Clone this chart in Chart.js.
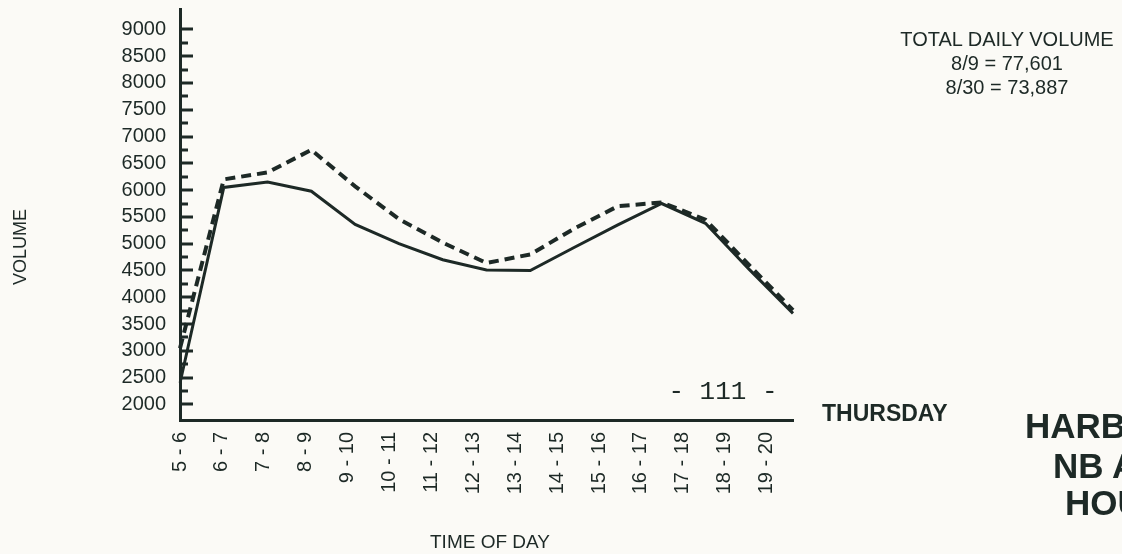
<!DOCTYPE html>
<html>
<head>
<meta charset="utf-8">
<script src="https://cdn.jsdelivr.net/npm/chart.js@4.4.1/dist/chart.umd.min.js"></script>
<style>
  html,body{margin:0;padding:0;background:#fbfaf6;overflow:hidden;}
  #wrap{position:relative;width:1122px;height:554px;}
  #wrap canvas{position:absolute;left:0;top:0;}
  .txt{position:absolute;color:#1d2926;font-family:"Liberation Sans",Arial,sans-serif;white-space:pre;line-height:1;}
</style>
</head>
<body>
<div id="wrap">
  <canvas id="vol"></canvas>
  <div class="txt" style="left:20px;top:247px;font-size:18px;transform:translate(-50%,-50%) rotate(-90deg);">VOLUME</div>
  <div class="txt" style="left:490px;top:541px;font-size:19px;transform:translate(-50%,-50%);">TIME OF DAY</div>
  <div class="txt" style="left:1007px;top:27px;font-size:20px;line-height:24px;text-align:center;transform:translateX(-50%);">TOTAL DAILY VOLUME
8/9 = 77,601
8/30 = 73,887</div>
  <div class="txt" style="left:822px;top:413px;font-size:23px;font-weight:bold;transform:translateY(-50%);">THURSDAY</div>
  <div class="txt" style="left:723px;top:392px;font-size:26px;font-family:'Liberation Mono',monospace;transform:translate(-50%,-50%);">- 111 -</div>
  <div class="txt" style="left:1025px;top:425px;font-size:35px;font-weight:bold;transform:translateY(-50%);">HARBO</div>
  <div class="txt" style="left:1053px;top:465px;font-size:35px;font-weight:bold;transform:translateY(-50%);">NB A</div>
  <div class="txt" style="left:1065px;top:502px;font-size:35px;font-weight:bold;transform:translateY(-50%);">HOU</div>
</div>
<script>
// hourly periods, 5am to 8pm
const hours = ['5 - 6','6 - 7','7 - 8','8 - 9','9 - 10','10 - 11','11 - 12','12 - 13','13 - 14','14 - 15','15 - 16','16 - 17','17 - 18','18 - 19','19 - 20'];
// dashed line (higher day total)
const vol0809 = [3050, 6200, 6330, 6750, 6070, 5460, 5020, 4640, 4800, 5280, 5700, 5770, 5450, 4600, 3760];
// solid line
const vol0830 = [2400, 6050, 6150, 5980, 5360, 5000, 4700, 4510, 4500, 4930, 5350, 5750, 5380, 4520, 3700];
const yTicks = [2000,2500,3000,3500,4000,4500,5000,5500,6000,6500,7000,7500,8000,8500,9000];

const INK = '#1d2926';
const FONT = {family:'"Liberation Sans", Arial, sans-serif', size:20};

// tick marks on the y axis point into the plot (major every 500, minor every 250)
const innerTicks = {
  id:'innerTicks',
  afterDatasetsDraw(chart){
    const y = chart.scales.y, ctx = chart.ctx, x0 = chart.chartArea.left;
    ctx.save();
    ctx.strokeStyle = INK; ctx.lineWidth = 3;
    for(let v = yTicks[0]; v <= yTicks[yTicks.length-1]; v += 250){
      const py = Math.round(y.getPixelForValue(v));
      const len = v % 500 === 0 ? 13 : 8;
      ctx.beginPath(); ctx.moveTo(x0, py); ctx.lineTo(x0 + len, py); ctx.stroke();
    }
    ctx.restore();
  }
};

const cv = document.getElementById('vol');
cv.width = 1122; cv.height = 554;

new Chart(cv, {
  type:'line',
  data:{
    labels: hours,
    datasets:[
      {label:'8/9', data: vol0809, borderColor:INK, borderWidth:4, borderDash:[10,6], pointRadius:0, tension:0, fill:false},
      {label:'8/30', data: vol0830, borderColor:INK, borderWidth:3, pointRadius:0, tension:0, fill:false},
    ]
  },
  options:{
    responsive:false, animation:false,
    layout:{padding:{top:9, right:329, left:0, bottom:0}},
    plugins:{legend:{display:false}, tooltip:{enabled:false}},
    scales:{
      x:{ type:'category', display:false, offset:false },
      // the printed hour labels sit a little tighter than the plotted points
      xl:{ type:'linear', position:'bottom', min:0, max:14.63,
        grid:{drawOnChartArea:false, drawTicks:false},
        border:{display:true, width:3, color:INK},
        afterBuildTicks:(s)=>{ s.ticks = hours.map((h,i)=>({value:i})); },
        afterFit:(s)=>{ s.height = 134; s.paddingLeft = 0; s.paddingRight = 0; },
        ticks:{ autoSkip:false, minRotation:90, maxRotation:90, padding:12, color:INK, font:FONT,
          callback:(v)=> hours[v] }
      },
      y:{ min:1710, max:9380,
        grid:{display:false, drawTicks:false},
        border:{display:true, width:3, color:INK},
        afterBuildTicks:(s)=>{ s.ticks = yTicks.map(v=>({value:v})); },
        afterFit:(s)=>{ s.width = 180; s.paddingTop = 0; s.paddingBottom = 0; },
        ticks:{ padding:14, color:INK, font:FONT, callback:(v)=> String(v) }
      }
    }
  },
  plugins:[innerTicks]
});
</script>
</body>
</html>
